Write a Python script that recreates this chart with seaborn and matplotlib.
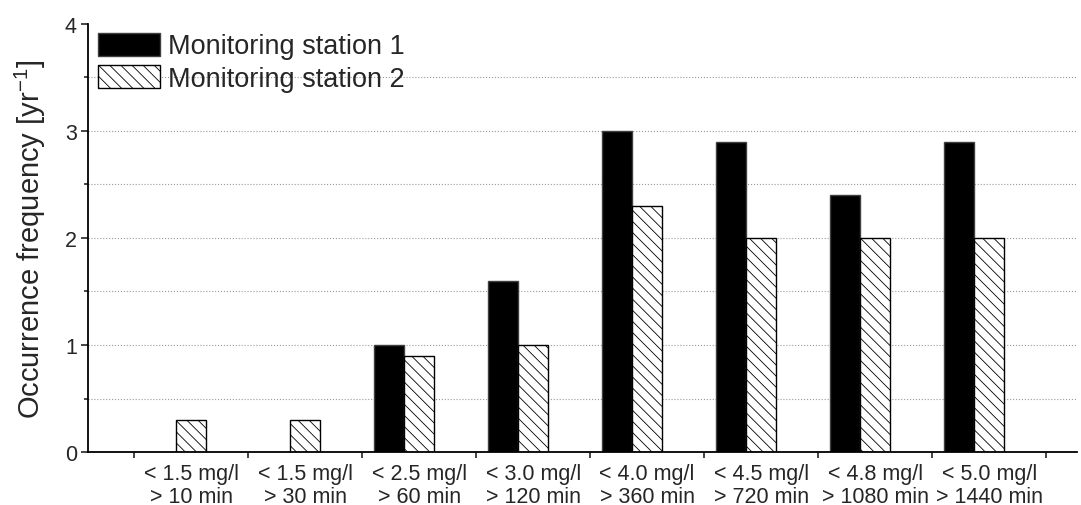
import numpy as np
import pandas as pd
import matplotlib
matplotlib.use("Agg")
import matplotlib.pyplot as plt
import seaborn as sns

# values
categories = [
    "< 1.5 mg/l\n> 10 min",
    "< 1.5 mg/l\n> 30 min",
    "< 2.5 mg/l\n> 60 min",
    "< 3.0 mg/l\n> 120 min",
    "< 4.0 mg/l\n> 360 min",
    "< 4.5 mg/l\n> 720 min",
    "< 4.8 mg/l\n> 1080 min",
    "< 5.0 mg/l\n> 1440 min",
]
station1 = [0.0, 0.0, 1.0, 1.6, 3.0, 2.9, 2.4, 2.9]
station2 = [0.3, 0.3, 0.9, 1.0, 2.3, 2.0, 2.0, 2.0]
series_names = ["Monitoring station 1", "Monitoring station 2"]

df = pd.DataFrame({"condition": categories,
                   series_names[0]: station1,
                   series_names[1]: station2})
long_df = df.melt(id_vars="condition", var_name="station", value_name="frequency")

sns.set_style("ticks")
plt.rcParams["font.family"] = ["Liberation Sans", "DejaVu Sans"]
plt.rcParams["mathtext.fontset"] = "custom"
plt.rcParams["mathtext.rm"] = "Liberation Sans"
plt.rcParams["mathtext.it"] = "Liberation Sans:italic"
plt.rcParams["hatch.color"] = "#8c8c8c"
plt.rcParams["hatch.linewidth"] = 0.6

fig = plt.figure(figsize=(10.81, 5.06), dpi=100)
ax = fig.add_axes([0.0814, 0.1047, 0.9146, 0.846])

bar_width = 0.53
sns.barplot(data=long_df, x="condition", y="frequency", hue="station",
            palette=["black", "white"], width=bar_width, saturation=1,
            edgecolor="black", linewidth=1.0, ax=ax, legend=False)

for p in ax.containers[0]:
    p.set_edgecolor("#404040")
for p in ax.containers[1]:
    p.set_hatch("\\\\\\")

# labels sit under the second bar of each group, ticks between groups
offset = bar_width / 4
n = len(categories)
ax.set_xticks(np.arange(n + 1) + offset - 0.5, labels=[])
ax.set_xticks(np.arange(n) + offset, labels=categories, minor=True)
ax.tick_params(axis="x", which="major", length=4, width=1.2, direction="out")
ax.tick_params(axis="x", which="minor", length=0, labelsize=15.5, pad=8)
for lbl in ax.get_xticklabels(minor=True):
    lbl.set_linespacing(1.1)
ax.set_xlim(-0.772, 7.90)
ax.set_xlabel("")

ax.set_ylim(0, 4)
ax.set_yticks([0, 1, 2, 3, 4])
ax.set_yticks(np.arange(0.5, 4, 1), minor=True)
ax.tick_params(axis="y", which="major", length=5, width=1.2, labelsize=15.5, pad=3)
ax.tick_params(axis="y", which="minor", length=3, width=1.2)
ax.set_ylabel("Occurrence frequency [yr$^{-1}$]", fontsize=21, labelpad=12)

ax.grid(axis="y", which="both", linestyle=":", color="#9a9a9a", linewidth=0.8)
ax.set_axisbelow(True)
gl = ax.yaxis.get_gridlines()
gl[0].set_visible(False)
gl[-1].set_visible(False)

sns.despine(ax=ax)
for s in ["left", "bottom"]:
    ax.spines[s].set_linewidth(1.3)
    ax.spines[s].set_color("black")

ax.legend(ax.containers, series_names, loc="upper left",
          bbox_to_anchor=(0.0101, 0.98), frameon=False, fontsize=19.5,
          handlelength=2.3, handleheight=0.93, handletextpad=0.3,
          labelspacing=0.22, borderaxespad=0, borderpad=0)

fig.savefig("out.png", dpi=100)
